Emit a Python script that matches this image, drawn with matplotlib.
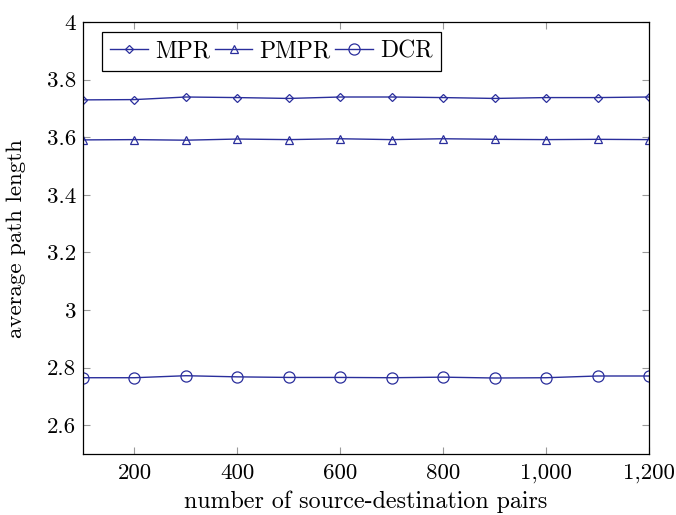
import matplotlib
matplotlib.use("Agg")
import matplotlib.pyplot as plt

plt.rcParams['font.family'] = 'serif'
plt.rcParams['font.serif'] = ['cmr10']
plt.rcParams['mathtext.fontset'] = 'cm'
plt.rcParams['axes.formatter.use_mathtext'] = True
plt.rcParams['font.size'] = 16.5

pairs = [100, 200, 300, 400, 500, 600, 700, 800, 900, 1000, 1100, 1200]
mpr = [3.730, 3.731, 3.740, 3.738, 3.735, 3.740, 3.740, 3.738, 3.735, 3.738, 3.738, 3.740]
pmpr = [3.591, 3.592, 3.590, 3.594, 3.592, 3.595, 3.592, 3.595, 3.593, 3.592, 3.593, 3.592]
dcr = [2.765, 2.765, 2.772, 2.768, 2.766, 2.766, 2.765, 2.767, 2.764, 2.765, 2.771, 2.771]

xticks = [200, 400, 600, 800, 1000, 1200]
xlabels = ['200', '400', '600', '800', '1,000', '1,200']
yticks = [2.6, 2.8, 3.0, 3.2, 3.4, 3.6, 3.8, 4.0]
ylabels = ['2.6', '2.8', '3', '3.2', '3.4', '3.6', '3.8', '4']

col = '#2a2e9c'
fig = plt.figure(figsize=(6.76, 5.15), dpi=100)
ax = fig.add_axes([0.1228, 0.1184, 0.960 - 0.1228, 0.957 - 0.1184])

ax.plot(pairs, mpr, color=col, lw=1, marker='D', ms=4.5, mfc='none', mew=0.9, label='MPR')
ax.plot(pairs, pmpr, color=col, lw=1, marker='^', ms=6, mfc='none', mew=0.9, label='PMPR')
ax.plot(pairs, dcr, color=col, lw=1, marker='o', ms=8, mfc='none', mew=0.9, label='DCR')

ax.set_xlim(100, 1200)
ax.set_ylim(2.5, 4.0)
ax.set_xticks(xticks)
ax.set_xticklabels(xlabels)
ax.set_yticks(yticks)
ax.set_yticklabels(ylabels)
ax.tick_params(direction='in', length=5, color='#999999', top=True, right=True)
ax.tick_params(axis='x', pad=7)
ax.tick_params(axis='y', pad=5)
for s in ax.spines.values():
    s.set_linewidth(0.9)

ax.set_xlabel('number of source-destination pairs', labelpad=5, fontsize=17.3)
ax.set_ylabel('average path length', labelpad=15)

leg = ax.legend(loc='upper left', ncol=3, bbox_to_anchor=(0.033, 0.977), fancybox=False,
                edgecolor='black', framealpha=1, handlelength=1.6, handletextpad=0.3,
                columnspacing=0.2, borderpad=0.35, borderaxespad=0, fontsize=17)
leg.get_frame().set_linewidth(0.9)

fig.savefig('out.png', dpi=100)
